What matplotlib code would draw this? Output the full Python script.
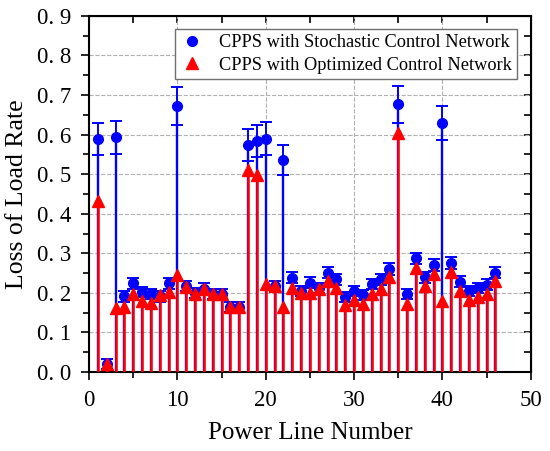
import matplotlib
matplotlib.use('Agg')
import matplotlib.pyplot as plt
from matplotlib.lines import Line2D
import numpy as np

plt.rcParams['font.family'] = ['Liberation Serif', 'DejaVu Serif']

# Messwerte
line_no = np.arange(1, 47)
stoch = [0.588, 0.021, 0.593, 0.191, 0.224, 0.202, 0.198, 0.191, 0.224, 0.672,
         0.217, 0.200, 0.211, 0.197, 0.197, 0.164, 0.164, 0.574, 0.584, 0.590,
         0.218, 0.536, 0.238, 0.205, 0.226, 0.213, 0.251, 0.235, 0.190, 0.204,
         0.194, 0.222, 0.234, 0.260, 0.676, 0.197, 0.287, 0.239, 0.270, 0.628,
         0.276, 0.228, 0.205, 0.213, 0.221, 0.251]
stoch_err = [0.040, 0.012, 0.041, 0.013, 0.014, 0.013, 0.013, 0.013, 0.014, 0.047,
             0.013, 0.013, 0.013, 0.013, 0.013, 0.012, 0.012, 0.040, 0.040, 0.041,
             0.013, 0.037, 0.014, 0.013, 0.014, 0.013, 0.014, 0.014, 0.013, 0.013,
             0.013, 0.013, 0.014, 0.015, 0.047, 0.013, 0.015, 0.014, 0.015, 0.043,
             0.015, 0.014, 0.013, 0.013, 0.013, 0.014]
optim = [0.432, 0.020, 0.163, 0.165, 0.198, 0.179, 0.175, 0.194, 0.202, 0.244,
         0.215, 0.198, 0.210, 0.196, 0.196, 0.164, 0.164, 0.510, 0.498, 0.222,
         0.218, 0.164, 0.213, 0.200, 0.200, 0.210, 0.229, 0.213, 0.169, 0.181,
         0.171, 0.198, 0.209, 0.239, 0.603, 0.173, 0.263, 0.218, 0.247, 0.180,
         0.253, 0.204, 0.181, 0.190, 0.198, 0.229]

fig = plt.figure(figsize=(5.5, 4.51), dpi=100)
ax = fig.add_axes([0.162, 0.175, 0.803, 0.79])

# Stochastic: Stiele, Fehlerbalken, Punkte
ax.vlines(line_no, 0, stoch, color='blue', lw=1.7, zorder=2)
ax.errorbar(line_no, stoch, yerr=stoch_err, fmt='o', color='blue', ms=7,
            ecolor='blue', elinewidth=1.4, capsize=4, capthick=1.4, zorder=3)
# Optimized
ax.vlines(line_no, 0, optim, color='red', lw=1.8, zorder=4)
ax.plot(line_no, optim, '^', color='red', ms=8, zorder=5)

ax.set_xlim(0, 50)
ax.set_ylim(0, 0.9)
ax.set_xticks(np.arange(0, 51, 10))
ax.set_xticks(np.arange(0, 51, 5), minor=True)
ax.set_yticks(np.arange(0, 0.91, 0.1))
ax.set_yticks(np.arange(0, 0.91, 0.05), minor=True)
ax.set_yticklabels([f'{v:.1f}'.replace('.', '. ') for v in np.arange(0, 0.91, 0.1)])
ax.tick_params(which='both', direction='out', labelsize=16.5, width=1.2, pad=7)
ax.tick_params(which='major', length=6)
ax.tick_params(which='minor', length=4)
for s in ax.spines.values():
    s.set_linewidth(1.5)

# obere und rechte Achse mit Ticks nach innen
top = ax.secondary_xaxis('top')
top.set_xticks(np.arange(0, 51, 5))
top.tick_params(direction='in', length=5, width=1.2, labeltop=False)
right = ax.secondary_yaxis('right')
right.set_yticks(np.arange(0, 0.91, 0.05))
right.tick_params(direction='in', length=5, width=1.2, labelright=False)

ax.grid(which='major', ls='--', color='#b0b0b0', lw=0.8)
ax.set_axisbelow(True)

ax.set_xlabel('Power Line Number', fontsize=18, labelpad=8)
ax.set_ylabel('Loss of Load Rate', fontsize=18.5, labelpad=6)

handles = [
    Line2D([], [], ls='none', marker='o', color='blue', ms=7),
    Line2D([], [], ls='none', marker='^', color='red', ms=8),
]
labels = ['CPPS with Stochastic Control Network', 'CPPS with Optimized Control Network']
leg = ax.legend(handles, labels, loc='upper right', fontsize=13.2, fancybox=False,
                edgecolor='#707070', framealpha=1, borderpad=0.3,
                bbox_to_anchor=(0.99, 0.99),
                handlelength=1.3, handletextpad=0.8, labelspacing=0.3)
leg.get_frame().set_linewidth(1.0)

plt.savefig('out.png', dpi=100)
plt.close()
